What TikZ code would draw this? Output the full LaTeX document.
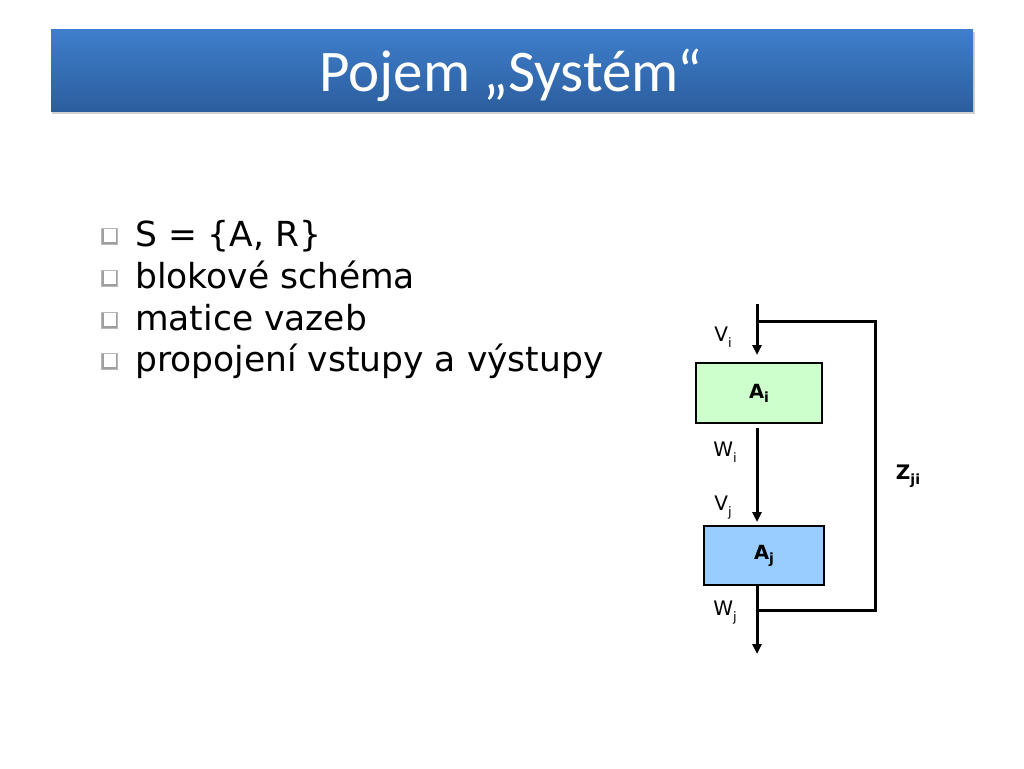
\documentclass[tikz,border=0pt]{standalone}
\usepackage{fontspec}
\setmainfont{DejaVu Sans}
\newfontfamily\titlefont{Carlito}
\usetikzlibrary{arrows.meta}
\definecolor{bartop}{HTML}{3E7ECB}
\definecolor{barbot}{HTML}{2C5E9E}
\definecolor{boxgreen}{HTML}{CCFFCC}
\definecolor{boxblue}{HTML}{99CCFF}
\newcommand{\lsub}[3]{\raisebox{-#3pt}{\fontsize{#2}{#2}\selectfont #1}}
\tikzset{
  blockbox/.style={draw=black, line width=1.5pt, inner sep=0pt, font=\bfseries\fontsize{19.5}{24}\selectfont},
  conn/.style={line width=3pt},
  arr/.style={conn, -{Triangle[length=10pt,width=9pt]}},
  lbl/.style={font=\fontsize{20}{24}\selectfont, inner sep=0pt},
  bullettext/.style={anchor=base west, inner sep=0pt, font=\fontsize{34.5}{40}\selectfont},
}
\newcommand{\qbullet}[1]{%
  \fill[gray!75] (101,#1-18) rectangle (117,#1-2);
  \fill[white] (103.5,#1-17.2) rectangle (116.2,#1-4.5);
  \draw[gray!55, line width=0.7pt] (101,#1-18) rectangle (117,#1-2);
}
\begin{document}
\begin{tikzpicture}[x=1pt,y=-1pt]
\useasboundingbox (0,0) rectangle (1024,768);
\fill[white] (0,0) rectangle (1024,768);
% title bar
\fill[black!18] (52,32) rectangle (975,114);
\shade[top color=bartop, bottom color=barbot] (51,30) rectangle (973,111);
\node[font=\titlefont\fontsize{59}{64}\selectfont, text=white, anchor=base] (title) at (511,91) {Pojem „Systém“};
% bullets
\qbullet{246}
\qbullet{288}
\qbullet{330}
\qbullet{371}
\node[bullettext] (b1) at (135,246) {S = \{A, R\}};
\node[bullettext] (b2) at (135,288) {blokové schéma};
\node[bullettext] (b3) at (135,330) {matice vazeb};
\node[bullettext] (b4) at (135,371) {propojení vstupy a výstupy};
% diagram
\node[blockbox, fill=boxgreen, minimum width=126pt, minimum height=60pt] (Ai) at (759,393.2) {A\lsub{i}{14}{4}};
\node[blockbox, fill=boxblue, minimum width=120pt, minimum height=59pt] (Aj) at (764,555.5) {A\lsub{j}{14}{4}};
\coordinate (top) at (757,304);
\coordinate (inI) at (757,355);
\coordinate (fbTop) at (757,321);
\coordinate (fbR1) at (875,321);
\coordinate (fbR2) at (875,610);
\coordinate (fbBot) at (757,610);
\coordinate (outI) at (757,428);
\coordinate (inJ) at (757,522);
\coordinate (outJ) at (757,585);
\coordinate (endJ) at (757,654);
\draw[arr] (top) -- (inI);
\draw[conn] (fbTop) -- (fbR1) -- (fbR2) -- (fbBot);
\draw[arr] (outI) -- (inJ);
\draw[arr] (outJ) -- (endJ);
\node[lbl] (Vi) at (723,337) {V\lsub{i}{13}{6}};
\node[lbl] (Wi) at (725,452) {W\lsub{i}{13}{6}};
\node[lbl] (Vj) at (723,508) {V\lsub{j}{13}{6}};
\node[lbl] (Wj) at (725,613) {W\lsub{j}{13}{6}};
\node[lbl, font=\bfseries\fontsize{20}{24}\selectfont] (Z) at (908,476) {Z\lsub{ji}{14}{5}};
\end{tikzpicture}
\end{document}
